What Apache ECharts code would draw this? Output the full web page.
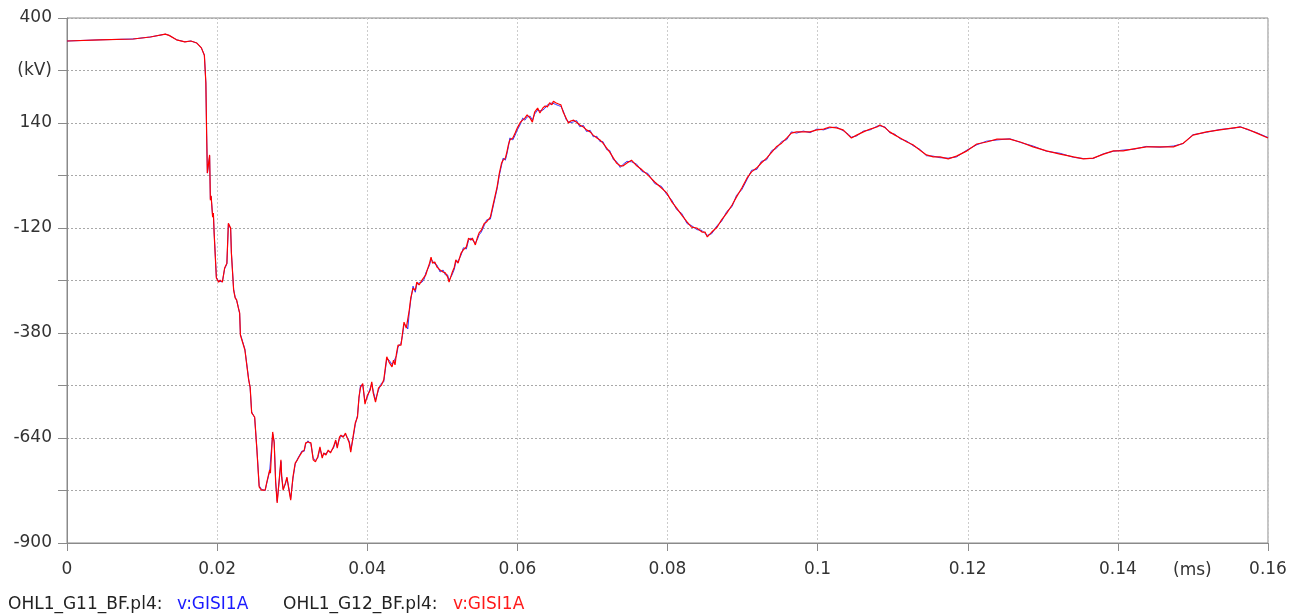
<!DOCTYPE html>
<html>
<head>
<meta charset="utf-8">
<script src="https://cdn.jsdelivr.net/npm/echarts@6/dist/echarts.min.js"></script>
<style>
html,body{margin:0;padding:0;background:#fff;}
#chart{width:1298px;height:616px;}
</style>
</head>
<body>
<div id="chart"></div>
<script>
// time in ms
const time = [
0,0.0044,0.0088,0.0111,0.0131,0.0136,0.0146,0.0157,0.0165,0.0173,0.0179,0.0183,0.0185,0.0186,0.0187,
0.0190,0.0191,0.0192,0.0194,0.0195,0.0196,0.0199,0.0202,0.0204,0.0207,0.0210,0.0213,0.0215,0.0218,0.0219,
0.0222,0.0224,0.0226,0.0228,0.0230,0.0231,0.0237,0.0242,0.0244,0.0246,0.0250,0.0253,0.0256,0.0259,0.0264,
0.0266,0.0270,0.0271,0.0274,0.0276,0.0278,0.0280,0.0283,0.0285,0.0286,0.0288,0.0291,0.0293,0.0295,0.0298,
0.0301,0.0304,0.0307,0.0309,0.0313,0.0316,0.0318,0.0321,0.0325,0.0328,0.0331,0.0334,0.0337,0.0340,0.0342,
0.0345,0.0348,0.0351,0.0355,0.0358,0.0360,0.0363,0.0365,0.0368,0.0371,0.0373,0.0376,0.0378,0.0381,0.0384,
0.0387,0.0389,0.0391,0.0394,0.0397,0.0400,0.0404,0.0406,0.0408,0.0411,0.0415,0.0419,0.0422,0.0426,0.0429,
0.0433,0.0435,0.0437,0.0439,0.0441,0.0445,0.0447,0.0449,0.0452,0.0454,0.0456,0.0458,0.0461,0.0464,0.0466,
0.0469,0.0473,0.0476,0.0478,0.0480,0.0483,0.0485,0.0487,0.0490,0.0493,0.0497,0.0501,0.0504,0.0507,0.0509,
0.0513,0.0516,0.0518,0.0521,0.0525,0.0528,0.0532,0.0535,0.0538,0.0540,0.0544,0.0547,0.0549,0.0552,0.0556,
0.0559,0.0564,0.0567,0.0570,0.0573,0.0576,0.0579,0.0581,0.0584,0.0586,0.0588,0.0590,0.0594,0.0597,0.0600,
0.0604,0.0607,0.0610,0.0613,0.0617,0.0620,0.0623,0.0627,0.0630,0.0634,0.0637,0.0640,0.0643,0.0646,0.0648,
0.0651,0.0655,0.0658,0.0661,0.0665,0.0668,0.0671,0.0675,0.0679,0.0683,0.0688,0.0692,0.0697,0.0701,0.0706,
0.0710,0.0714,0.0719,0.0723,0.0728,0.0732,0.0737,0.0741,0.0746,0.0752,0.0759,0.0766,0.0774,0.0783,0.0792,
0.0799,0.0806,0.0812,0.0819,0.0826,0.0832,0.0839,0.0846,0.0850,0.0853,0.0859,0.0866,0.0872,0.0879,0.0886,
0.0892,0.0899,0.0906,0.0912,0.0919,0.0925,0.0932,0.0939,0.0945,0.0952,0.0959,0.0965,0.0972,0.0981,0.0990,
0.0999,0.1008,0.1016,0.1025,0.1034,0.1041,0.1045,0.1052,0.1061,0.1070,0.1079,0.1083,0.1090,0.1096,0.1103,
0.1110,0.1119,0.1127,0.1136,0.1145,0.1154,0.1163,0.1174,0.1185,0.1199,0.1212,0.1225,0.1239,0.1256,0.1270,
0.1287,0.1305,0.1323,0.1341,0.1354,0.1367,0.1381,0.1394,0.1407,0.1421,0.1438,0.1456,0.1474,0.1487,0.1500,
0.1518,0.1536,0.1554,0.1563,0.1572,0.1585,0.1600
];
// OHL1_G12_BF.pl4: v:GISI1A (red), kV
const vG12 = [
343,346,348,353,360,357,346,341,343,338,326,308,239,115,16,
61,-51,-40,-93,-83,-132,-244,-254,-249,-254,-219,-207,-108,-120,-182,
-274,-293,-298,-316,-330,-385,-422,-496,-514,-578,-588,-670,-761,-769,-769,
-751,-719,-727,-625,-652,-751,-801,-737,-694,-737,-769,-751,-737,-761,-794,
-737,-702,-694,-687,-675,-670,-652,-650,-652,-694,-699,-687,-662,-690,-677,
-682,-670,-677,-662,-645,-665,-638,-633,-638,-628,-638,-652,-675,-638,-603,
-588,-538,-515,-505,-556,-535,-521,-501,-529,-551,-516,-509,-496,-439,-452,
-464,-447,-459,-430,-410,-410,-380,-353,-368,-365,-323,-293,-269,-274,-254,
-261,-249,-241,-236,-224,-207,-192,-207,-204,-217,-224,-229,-231,-241,-254,
-231,-217,-199,-207,-182,-174,-167,-145,-150,-145,-162,-142,-132,-125,-108,
-105,-93,-68,-43,-18,16,41,48,53,68,86,98,103,115,128,
142,147,152,160,152,142,167,177,165,177,182,180,190,185,194,
190,187,185,167,152,140,145,147,142,135,130,123,118,110,103,
98,90,78,68,53,41,34,34,41,48,34,24,11,-6,-21,
-33,-56,-70,-88,-105,-118,-120,-130,-130,-142,-130,-118,-100,-83,-63,
-43,-21,4,19,29,41,53,68,81,90,103,115,118,118,118,
123,125,130,128,123,110,103,110,118,125,130,135,128,118,110,
103,93,86,73,61,56,56,51,58,71,88,93,100,100,93,
81,71,63,56,51,53,63,71,71,76,81,81,81,90,110,
118,123,128,130,125,115,103
];
// OHL1_G11_BF.pl4: v:GISI1A (blue), kV
const vG11 = [
343,346,348,353,360,357,346,341,343,338,326,308,239,115,16,
58,-48,-42,-90,-85,-130,-242,-252,-250,-253,-221,-209,-110,-122,-180,
-272,-291,-300,-314,-332,-383,-420,-494,-516,-575,-590,-668,-758,-767,-770,
-753,-722,-725,-630,-648,-748,-797,-740,-698,-733,-766,-754,-740,-758,-790,
-741,-705,-692,-690,-672,-673,-655,-647,-656,-690,-695,-690,-666,-686,-680,
-678,-673,-674,-665,-648,-661,-641,-636,-635,-631,-635,-648,-670,-642,-607,
-584,-542,-510,-509,-550,-540,-516,-506,-524,-546,-521,-504,-501,-444,-447,
-458,-452,-454,-436,-415,-405,-386,-358,-362,-370,-328,-298,-264,-279,-259,
-256,-254,-246,-231,-229,-212,-197,-202,-209,-212,-229,-224,-236,-236,-249,
-236,-222,-204,-202,-187,-169,-172,-150,-145,-150,-157,-147,-137,-130,-113,
-100,-98,-73,-48,-23,11,36,53,48,63,81,103,98,110,123,
137,152,147,155,157,147,162,172,170,172,177,185,185,190,189,
186,183,181,171,148,144,141,143,146,131,134,119,122,106,107,
94,94,74,72,49,45,30,38,45,44,38,20,15,-10,-17,
-37,-52,-74,-84,-109,-114,-124,-126,-134,-138,-134,-114,-104,-79,-67,
-39,-25,0,23,25,45,49,72,77,94,99,118,115,120,116,
125,123,128,130,121,112,105,108,120,123,132,133,130,116,112,
101,95,84,75,59,58,54,53,56,73,86,95,98,101,92,
83,70,65,55,52,52,64,70,73,75,82,80,83,89,111,
117,124,127,131,124,116,104
];

const xTickValues = [0,0.02,0.04,0.06,0.08,0.1,0.12,0.14,0.16];
const xTickLabels = ['0','0.02','0.04','0.06','0.08','0.1','0.12','0.14','0.16'];
const yLabelValues = [400,270,140,-120,-380,-640,-900];
const yLabelTexts = ['400','(kV)','140','-120','-380','-640','-900'];
const xUnit = '(ms)';
const seriesNames = ['OHL1_G11_BF.pl4:', 'OHL1_G12_BF.pl4:'];
const seriesVar = ['v:GISI1A', 'v:GISI1A'];

const FONT = '"DejaVu Sans", Verdana, sans-serif';
const chart = echarts.init(document.getElementById('chart'), null, {renderer: 'canvas'});

function near(a, b) { return Math.abs(a - b) < 1e-6; }

const option = {
  animation: false,
  backgroundColor: '#ffffff',
  grid: {left: 67, right: 30, top: 18, bottom: 73, show: true, borderColor: '#8a8a8a', borderWidth: 1, containLabel: false},
  xAxis: {
    type: 'value', min: 0, max: 0.16, interval: 0.02,
    axisLine: {show: true, onZero: false, lineStyle: {color: '#8a8a8a', width: 1}},
    axisTick: {show: true, length: 8, lineStyle: {color: '#8a8a8a'}},
    axisLabel: {
      fontFamily: FONT, fontSize: 17, color: '#333', margin: 18,
      formatter: function (v) {
        for (let i = 0; i < xTickValues.length; i++) if (near(v, xTickValues[i])) return xTickLabels[i];
        return '';
      }
    },
    splitLine: {show: true, lineStyle: {type: [2, 2], color: '#cccccc', width: 1}}
  },
  yAxis: {
    type: 'value', min: -900, max: 400, interval: 130,
    axisLine: {show: true, onZero: false, lineStyle: {color: '#8a8a8a', width: 1}},
    axisTick: {show: true, length: 9, lineStyle: {color: '#8a8a8a'}},
    axisLabel: {
      fontFamily: FONT, fontSize: 17, color: '#333', margin: 15,
      formatter: function (v) {
        for (let i = 0; i < yLabelValues.length; i++) if (near(v, yLabelValues[i])) return yLabelTexts[i];
        return '';
      }
    },
    splitLine: {show: true, lineStyle: {type: [2, 2], color: '#a8a8a8', width: 1}}
  },
  series: [
    {
      name: seriesNames[0], type: 'line', showSymbol: false, symbol: 'none',
      lineStyle: {color: '#2020ff', width: 0.9}, z: 2,
      data: time.map((t, i) => [t, vG11[i]])
    },
    {
      name: seriesNames[1], type: 'line', showSymbol: false, symbol: 'none',
      lineStyle: {color: '#ff0000', width: 1.2}, z: 3,
      data: time.map((t, i) => [t, vG12[i]])
    }
  ],
  graphic: [
    {type: 'text', x: 1173, y: 571, style: {text: xUnit, font: '17px ' + FONT, fill: '#333', verticalAlign: 'middle'}},
    {type: 'text', x: 8, y: 605, style: {text: seriesNames[0], font: '17px ' + FONT, fill: '#222', verticalAlign: 'middle'}},
    {type: 'text', x: 177, y: 605, style: {text: seriesVar[0], font: '17px ' + FONT, fill: '#1a1aff', verticalAlign: 'middle'}},
    {type: 'text', x: 283, y: 605, style: {text: seriesNames[1], font: '17px ' + FONT, fill: '#222', verticalAlign: 'middle'}},
    {type: 'text', x: 453, y: 605, style: {text: seriesVar[1], font: '17px ' + FONT, fill: '#ff1a1a', verticalAlign: 'middle'}}
  ]
};
chart.setOption(option);
</script>
</body>
</html>
